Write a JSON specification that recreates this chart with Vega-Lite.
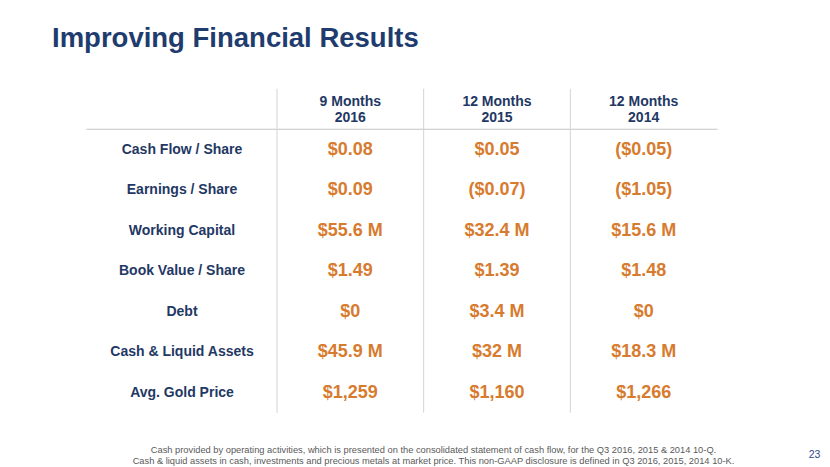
{
  "$schema": "https://vega.github.io/schema/vega-lite/v6.json",
  "autosize": {"type": "none"},
  "padding": {"left": 277, "top": 88.75, "right": 113, "bottom": 54.25},
  "width": 440,
  "height": 324,
  "background": "#ffffff",
  "title": {
    "text": "Improving Financial Results",
    "anchor": "start",
    "frame": "group",
    "dx": -225,
    "offset": 14,
    "baseline": "alphabetic",
    "font": "Liberation Sans",
    "fontSize": 27.5,
    "fontWeight": "bold",
    "color": "#1f3c6e"
  },
  "config": {"view": {"stroke": null}},
  "datasets": {
    "heads": [
      {"period": "9 Months 2016", "metric": "(header)", "head": "9 Months\n2016"},
      {"period": "12 Months 2015", "metric": "(header)", "head": "12 Months\n2015"},
      {"period": "12 Months 2014", "metric": "(header)", "head": "12 Months\n2014"}
    ],
    "cells": [
      {"metric": "Cash Flow / Share", "period": "9 Months 2016", "value": "$0.08"},
      {"metric": "Cash Flow / Share", "period": "12 Months 2015", "value": "$0.05"},
      {"metric": "Cash Flow / Share", "period": "12 Months 2014", "value": "($0.05)"},
      {"metric": "Earnings / Share", "period": "9 Months 2016", "value": "$0.09"},
      {"metric": "Earnings / Share", "period": "12 Months 2015", "value": "($0.07)"},
      {"metric": "Earnings / Share", "period": "12 Months 2014", "value": "($1.05)"},
      {"metric": "Working Capital", "period": "9 Months 2016", "value": "$55.6 M"},
      {"metric": "Working Capital", "period": "12 Months 2015", "value": "$32.4 M"},
      {"metric": "Working Capital", "period": "12 Months 2014", "value": "$15.6 M"},
      {"metric": "Book Value / Share", "period": "9 Months 2016", "value": "$1.49"},
      {"metric": "Book Value / Share", "period": "12 Months 2015", "value": "$1.39"},
      {"metric": "Book Value / Share", "period": "12 Months 2014", "value": "$1.48"},
      {"metric": "Debt", "period": "9 Months 2016", "value": "$0"},
      {"metric": "Debt", "period": "12 Months 2015", "value": "$3.4 M"},
      {"metric": "Debt", "period": "12 Months 2014", "value": "$0"},
      {"metric": "Cash & Liquid Assets", "period": "9 Months 2016", "value": "$45.9 M"},
      {"metric": "Cash & Liquid Assets", "period": "12 Months 2015", "value": "$32 M"},
      {"metric": "Cash & Liquid Assets", "period": "12 Months 2014", "value": "$18.3 M"},
      {"metric": "Avg. Gold Price", "period": "9 Months 2016", "value": "$1,259"},
      {"metric": "Avg. Gold Price", "period": "12 Months 2015", "value": "$1,160"},
      {"metric": "Avg. Gold Price", "period": "12 Months 2014", "value": "$1,266"}
    ]
  },
  "layer": [
    {
      "data": {"name": "heads"},
      "mark": {"type": "rule", "color": "#d4d4d4", "strokeWidth": 1},
      "encoding": {
        "x": {
          "field": "period",
          "type": "nominal",
          "bandPosition": 0,
          "sort": null,
          "scale": {"type": "band", "domain": ["9 Months 2016", "12 Months 2015", "12 Months 2014"], "paddingInner": 0, "paddingOuter": 0},
          "axis": {
            "orient": "bottom",
            "labels": false,
            "ticks": false,
            "domain": false,
            "grid": false,
            "title": [
              "Cash provided by operating activities, which is presented on the consolidated statement of cash flow, for the Q3 2016, 2015 & 2014 10-Q.",
              "Cash & liquid assets in cash, investments and precious metals at market price. This non-GAAP disclosure is defined in Q3 2016, 2015, 2014 10-K."
            ],
            "titleFont": "Liberation Sans Narrow, Liberation Sans, sans-serif",
            "titleFontSize": 9.3,
            "titleFontWeight": "normal",
            "titleColor": "#5a5a5a",
            "titleAlign": "center",
            "titleBaseline": "top",
            "titleLineHeight": 10.5,
            "titleX": 156,
            "titleY": 33
          }
        }
      }
    },
    {
      "data": {"name": "heads"},
      "mark": {"type": "text", "lineBreak": "\n", "lineHeight": 16, "dy": -7, "font": "Liberation Sans", "fontSize": 14, "fontWeight": "bold", "color": "#1f3864", "align": "center", "baseline": "middle"},
      "encoding": {
        "x": {"field": "period", "type": "nominal", "sort": null},
        "y": {
          "field": "metric",
          "type": "nominal",
          "sort": null,
          "scale": {"type": "band", "domain": ["(header)", "Cash Flow / Share", "Earnings / Share", "Working Capital", "Book Value / Share", "Debt", "Cash & Liquid Assets", "Avg. Gold Price"], "paddingInner": 0, "paddingOuter": 0},
          "axis": {
            "orient": "left",
            "domain": false,
            "bandPosition": 0,
            "ticks": true,
            "tickSize": 191,
            "tickColor": "#c4c4c4",
            "tickWidth": 1,
            "tickOpacity": {"condition": {"test": "datum.value === 'Cash Flow / Share'", "value": 1}, "value": 0},
            "grid": true,
            "gridColor": "#c4c4c4",
            "gridWidth": 1,
            "gridOpacity": {"condition": {"test": "datum.value === 'Cash Flow / Share'", "value": 1}, "value": 0},
            "labelExpr": "datum.value === '(header)' ? '' : datum.label",
            "labelFont": "Liberation Sans",
            "labelFontSize": 14,
            "labelFontWeight": "bold",
            "labelColor": "#1f3864",
            "labelAlign": "center",
            "labelBaseline": "middle",
            "labelPadding": -95.5,
            "labelLimit": 300,
            "title": "23",
            "titleAngle": 0,
            "titleX": 537,
            "titleY": 366,
            "titleAlign": "center",
            "titleBaseline": "middle",
            "titleFont": "Liberation Sans",
            "titleFontSize": 10.5,
            "titleFontWeight": "normal",
            "titleColor": "#2f4b8a"
          }
        },
        "text": {"field": "head", "type": "nominal"}
      }
    },
    {
      "data": {"name": "cells"},
      "mark": {"type": "text", "font": "Liberation Sans", "fontSize": 18, "fontWeight": "bold", "color": "#d77b2e", "align": "center", "baseline": "middle"},
      "encoding": {
        "x": {"field": "period", "type": "nominal", "sort": null},
        "y": {"field": "metric", "type": "nominal", "sort": null},
        "text": {"field": "value", "type": "nominal"}
      }
    }
  ]
}
